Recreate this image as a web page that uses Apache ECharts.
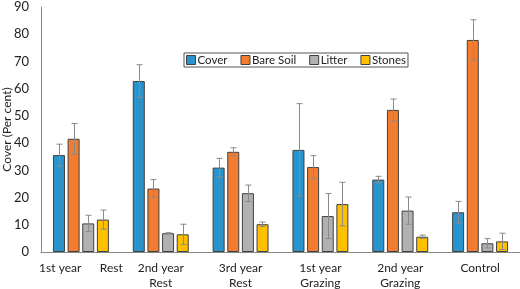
<!DOCTYPE html>
<html><head><meta charset="utf-8">
<script src="https://cdn.jsdelivr.net/npm/echarts@6/dist/echarts.min.js"></script>
<style>html,body{margin:0;padding:0;background:#fff}#c{width:520px;height:289px}</style>
</head><body><div id="c"></div>
<script>
const categories = ['1st year      Rest', '2nd year\nRest', '3rd year\nRest', '1st year\nGrazing', '2nd year\nGrazing', 'Control'];
const seriesNames = ['Cover', 'Bare Soil', 'Litter', 'Stones'];
const cover    = [35.6, 62.8, 31.0, 37.5, 26.6, 14.6];
const bareSoil = [41.6, 23.3, 36.8, 31.2, 52.2, 77.9];
const litter   = [10.5, 6.9, 21.6, 13.2, 15.2, 3.2];
const stones   = [11.9, 6.5, 10.2, 17.6, 5.6, 3.9];
const coverErr    = [4.0, 6.0, 3.4, 17.0, 1.2, 4.0];
const bareSoilErr = [5.6, 3.3, 1.5, 4.2, 4.0, 7.4];
const litterErr   = [3.0, 0.2, 3.0, 8.3, 5.0, 1.7];
const stonesErr   = [3.5, 3.7, 0.8, 8.0, 0.6, 3.0];
const yTicks = [0, 10, 20, 30, 40, 50, 60, 70, 80, 90];

const values = [cover, bareSoil, litter, stones];
const errs = [coverErr, bareSoilErr, litterErr, stonesErr];
const colors = ['#2b93cc', '#f27d30', '#b1b1b1', '#ffc000'];
const BW = 12, STEP = 14.6;
const font = 'Lato, "Open Sans", sans-serif';

const series = [];
values.forEach((v, i) => {
  series.push({
    name: seriesNames[i], type: 'bar', data: v, barWidth: BW, barGap: '22%',
    itemStyle: { color: colors[i], borderColor: '#404040', borderWidth: 1 }
  });
});
values.forEach((v, i) => {
  series.push({
    type: 'custom', name: seriesNames[i] + ' err', z: 5,
    data: v.map((val, k) => [k, val - errs[i][k], val + errs[i][k]]),
    renderItem: function (params, api) {
      const lo = api.coord([api.value(0), api.value(1)]);
      const hi = api.coord([api.value(0), api.value(2)]);
      const x = Math.round(lo[0] + (i - 1.5) * STEP) + 0.5;
      const cw = 3;
      const st = { stroke: '#8a8a8a', lineWidth: 1 };
      return { type: 'group', children: [
        { type: 'line', shape: { x1: x, y1: hi[1], x2: x, y2: lo[1] }, style: st },
        { type: 'line', shape: { x1: x - cw, y1: hi[1], x2: x + cw, y2: hi[1] }, style: st },
        { type: 'line', shape: { x1: x - cw, y1: lo[1], x2: x + cw, y2: lo[1] }, style: st }
      ]};
    }
  });
});

const chart = echarts.init(document.getElementById('c'), null, { renderer: 'canvas' });
chart.setOption({
  animation: false,
  textStyle: { fontFamily: font },
  grid: { left: 41, right: 0, top: 7, bottom: 37, containLabel: false, outerBoundsMode: 'none' },
  legend: {
    data: seriesNames, left: 184, top: 53, itemWidth: 9, itemHeight: 9, itemGap: 13,
    padding: [1, 2, 1, 2], borderColor: '#555', borderWidth: 1, icon: 'rect',
    textStyle: { fontSize: 11.5, color: '#222', fontFamily: font, padding: [0, 0, 0, -3] },
    itemStyle: { borderColor: '#404040', borderWidth: 1 }
  },
  xAxis: {
    type: 'category', data: categories,
    axisLine: { lineStyle: { color: '#888', width: 1 } },
    axisTick: { show: false },
    axisLabel: { color: '#222', fontSize: 12, margin: 9, lineHeight: 15, interval: 0 }
  },
  yAxis: {
    type: 'value', min: 0, max: 90, interval: 10,
    name: 'Cover (Per cent)', nameLocation: 'middle', nameGap: 34, nameMoveOverlap: false,
    nameTextStyle: { fontSize: 12, color: '#222', verticalAlign: 'middle' },
    axisLine: { show: true, lineStyle: { color: '#888', width: 1 } },
    axisTick: { show: false }, splitLine: { show: false },
    axisLabel: { color: '#222', fontSize: 13, margin: 12,
      formatter: v => yTicks.includes(v) ? String(v) : '' }
  },
  series: series
});
</script></body></html>
